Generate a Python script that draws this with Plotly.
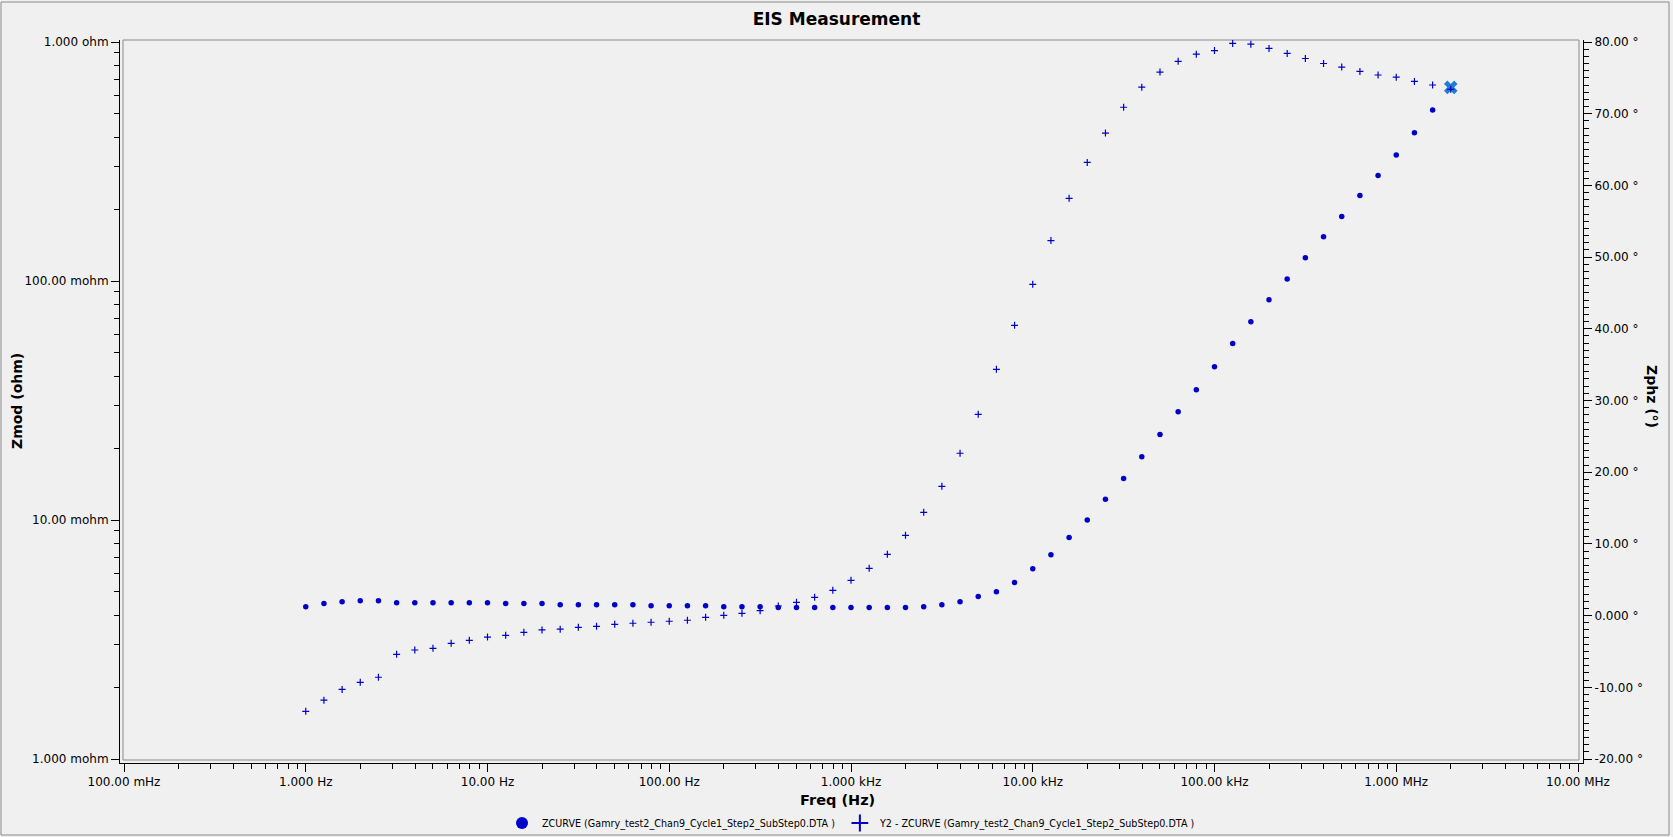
import plotly.graph_objects as go

# ---------------- data ----------------
freq_hz = [1.0, 1.259, 1.585, 1.995, 2.512, 3.162, 3.981, 5.012, 6.310, 7.943,
           10.0, 12.59, 15.85, 19.95, 25.12, 31.62, 39.81, 50.12, 63.10, 79.43,
           100.0, 125.9, 158.5, 199.5, 251.2, 316.2, 398.1, 501.2, 631.0, 794.3,
           1000.0, 1259.0, 1585.0, 1995.0, 2512.0, 3162.0, 3981.0, 5012.0, 6310.0, 7943.0,
           10000.0, 12590.0, 15850.0, 19950.0, 25120.0, 31620.0, 39810.0, 50120.0, 63100.0, 79430.0,
           100000.0, 125900.0, 158500.0, 199500.0, 251200.0, 316200.0, 398100.0, 501200.0, 631000.0, 794300.0,
           1000000.0, 1259000.0, 1585000.0, 1995000.0]

zmod_mohm = [4.34, 4.47, 4.55, 4.59, 4.59, 4.51, 4.51, 4.51, 4.51, 4.51,
             4.51, 4.47, 4.47, 4.47, 4.42, 4.42, 4.42, 4.42, 4.42, 4.38,
             4.38, 4.38, 4.38, 4.34, 4.34, 4.34, 4.30, 4.30, 4.30, 4.30,
             4.30, 4.30, 4.30, 4.30, 4.34, 4.42, 4.55, 4.78, 5.01, 5.47,
             6.25, 7.16, 8.44, 10.0, 12.2, 14.9, 18.4, 22.8, 28.4, 35.1,
             43.8, 54.7, 67.6, 83.5, 102.0, 125.0, 153.0, 186.0, 228.0, 276.0,
             337.0, 417.0, 519.0, 646.0]

zphz_deg = [-13.35, -11.8, -10.3, -9.3, -8.6, -5.4, -4.8, -4.56, -3.86, -3.45,
            -3.0, -2.75, -2.33, -2.0, -1.9, -1.63, -1.49, -1.21, -1.07, -0.93,
            -0.79, -0.65, -0.24, 0.04, 0.32, 0.69, 1.34, 1.85, 2.55, 3.53,
            4.92, 6.60, 8.55, 11.2, 14.41, 18.03, 22.64, 28.07, 34.35, 40.49,
            46.2, 52.3, 58.2, 63.2, 67.3, 70.9, 73.7, 75.8, 77.3, 78.3,
            78.8, 79.8, 79.7, 79.1, 78.4, 77.7, 77.0, 76.5, 75.9, 75.4,
            75.1, 74.5, 74.0, 73.4]

x_tickvals = [0.1, 1, 10, 100, 1e3, 1e4, 1e5, 1e6, 1e7]
x_ticktext = ["100.00 mHz", "1.000 Hz", "10.00 Hz", "100.00 Hz", "1.000 kHz",
              "10.00 kHz", "100.00 kHz", "1.000 MHz", "10.00 MHz"]
y_tickvals = [0.001, 0.01, 0.1, 1.0]
y_ticktext = ["1.000 mohm", "10.00 mohm", "100.00 mohm", "1.000 ohm"]
y2_tickvals = [-20, -10, 0, 10, 20, 30, 40, 50, 60, 70, 80]
y2_ticktext = ["-20.00 °", "-10.00 °", "0.000 °", "10.00 °", "20.00 °", "30.00 °",
               "40.00 °", "50.00 °", "60.00 °", "70.00 °", "80.00 °"]

name1 = "ZCURVE (Gamry_test2_Chan9_Cycle1_Step2_SubStep0.DTA )"
name2 = "Y2 - ZCURVE (Gamry_test2_Chan9_Cycle1_Step2_SubStep0.DTA )"

# ---------------- layout geometry (pixels) ----------------
W, H = 1673, 837
L, R, T, B = 120, 1583, 40, 763          # plot area in pixels
PW, PH = R - L, B - T

def px(xp):
    return (xp - L) / PW

def py(yp):
    return (B - yp) / PH

zmod_ohm = [v / 1000.0 for v in zmod_mohm]

FONT = "DejaVu Sans"
DOT = "#0000C8"

minor_x = [k * 10.0 ** e for e in range(-1, 7) for k in range(2, 10)]
minor_y = [k * 10.0 ** e for e in range(-3, 0) for k in range(2, 10)]

fig = go.Figure()
fig.add_trace(go.Scatter(
    x=freq_hz, y=zmod_ohm, mode="markers", name=name1,
    marker=dict(symbol="circle", size=5.5, color=DOT, line=dict(width=0)),
    yaxis="y"))
fig.add_trace(go.Scatter(
    x=freq_hz, y=zphz_deg, mode="markers", name=name2,
    marker=dict(symbol="cross-thin", size=5, color=DOT, line=dict(width=1.2, color=DOT)),
    yaxis="y2"))
fig.add_trace(go.Scatter(
    x=freq_hz[-1:], y=zmod_ohm[-1:], mode="markers", showlegend=False,
    marker=dict(symbol="x", size=12, color="#1C7ED6", line=dict(width=0)),
    yaxis="y"))

axis_common = dict(showgrid=False, zeroline=False, showline=True, linecolor="black",
                   linewidth=1, ticks="outside", ticklen=8, tickwidth=1, tickcolor="black",
                   tickfont=dict(family=FONT, size=12, color="black"))

fig.update_layout(
    width=W, height=H,
    margin=dict(l=L, r=W - R, t=T, b=H - B, autoexpand=False),
    paper_bgcolor="#F0F0F0", plot_bgcolor="#F0F0F0",
    title=dict(text="<b>EIS Measurement</b>", x=0.5, xref="container", xanchor="center",
               y=1 - 19 / H, yref="container", yanchor="middle",
               font=dict(family=FONT, size=17, color="black")),
    xaxis=dict(type="log", range=[-1 - 4 / 181.75, 7 + 5 / 181.75],
               tickmode="array", tickvals=x_tickvals, ticktext=x_ticktext,
               minor=dict(tickmode="array", tickvals=minor_x, ticks="outside",
                          ticklen=5, tickcolor="black", showgrid=False),
               **axis_common),
    yaxis=dict(type="log", range=[-3 - 4 / 239, 0 + 2 / 239],
               tickmode="array", tickvals=y_tickvals, ticktext=y_ticktext,
               minor=dict(tickmode="array", tickvals=minor_y, ticks="outside",
                          ticklen=5, tickcolor="black", showgrid=False),
               **axis_common),
    yaxis2=dict(overlaying="y", side="right", range=[-20 - 4 / 7.17, 80 + 2 / 7.17],
                tickmode="array", tickvals=y2_tickvals, ticktext=y2_ticktext,
                minor=dict(dtick=1, ticks="outside", ticklen=5, tickcolor="black",
                           showgrid=False),
                **axis_common),
    showlegend=True,
    legend=dict(orientation="h", x=0.5, xanchor="center", xref="paper",
                y=py(823), yanchor="middle", bgcolor="rgba(0,0,0,0)",
                font=dict(family=FONT, size=9.6, color="black"),
                itemsizing="constant", tracegroupgap=0),
    annotations=[
        dict(text="<b>Freq (Hz)</b>", x=px(837), y=py(800), xref="paper", yref="paper",
             showarrow=False, xanchor="center", yanchor="middle",
             font=dict(family=FONT, size=14.5, color="black")),
        dict(text="<b>Zmod (ohm)</b>", x=px(17), y=py(401), xref="paper", yref="paper",
             showarrow=False, xanchor="center", yanchor="middle", textangle=-90,
             font=dict(family=FONT, size=14, color="black")),
        dict(text="<b>Zphz (°)</b>", x=px(1652), y=py(396), xref="paper", yref="paper",
             showarrow=False, xanchor="center", yanchor="middle", textangle=90,
             font=dict(family=FONT, size=14, color="black")),
    ],
    shapes=[
        # plot frame
        dict(type="rect", xref="paper", yref="paper", x0=px(123), x1=px(1579),
             y0=py(760), y1=py(40), line=dict(color="#8A8A8A", width=1), layer="below"),
        # outer border
        dict(type="rect", xref="paper", yref="paper", x0=px(1), x1=px(1669),
             y0=py(835), y1=py(2), line=dict(color="#8A8A8A", width=1), layer="below"),
    ],
)

fig.write_html("out.html", config={"displayModeBar": False},
               post_script="document.body.style.margin='0';document.body.style.overflow='hidden';")
